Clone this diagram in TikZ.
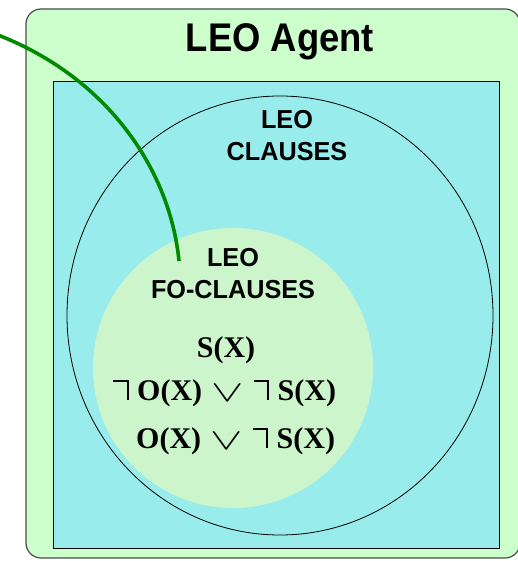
\documentclass[tikz,border=0pt]{standalone}
\usepackage{fontspec}
\setmainfont{Liberation Serif}
\setsansfont{Liberation Sans}
\definecolor{agentbg}{HTML}{CCFFCC}
\definecolor{clausebg}{HTML}{99ECEC}
\definecolor{fobg}{HTML}{CCF5CC}
\definecolor{linkgreen}{HTML}{008A00}
\definecolor{frame}{HTML}{4A4A4A}
% tall hook-shaped negation sign
\newcommand\hookneg{\makebox[0.8em][l]{\rule[0.6em]{0.45em}{0.07em}\rule{0.07em}{0.67em}}}
% wide, light disjunction sign
\newcommand\wideor{\hspace{0.32em}\raisebox{-0.05em}{\scalebox{1.95}[1.2]{$\vee$}}\hspace{0.32em}}
\tikzset{
  title/.style={font=\sffamily\bfseries\fontsize{40}{40}\selectfont, xscale=0.91, inner sep=0pt},
  label/.style={font=\sffamily\bfseries\fontsize{26}{32}\selectfont, xscale=0.97, align=center, inner sep=0pt},
  formula/.style={font=\rmfamily\bfseries\fontsize{30}{30}\selectfont, inner sep=0pt, anchor=base west},
}
\begin{document}
\begin{tikzpicture}[x=1pt,y=-1pt]
\useasboundingbox (0,0) rectangle (517,561);
% agent box
\path[fill=agentbg, draw=frame, line width=1.2pt, rounded corners=15pt] (26,9) rectangle (520,558);
\node[title] (agent) at (280,42) {LEO Agent};
% clause area
\path[fill=clausebg, draw=black, line width=1pt] (53,82) rectangle (499,548);
\path[fill=fobg] (233,368) ellipse [x radius=140, y radius=140];
\draw[line width=0.8pt] (280,315.5) ellipse [x radius=213, y radius=219.5];
\node[label] (clauses) at (287,136) {LEO\\CLAUSES};
\node[label] (fo) at (233,274) {LEO\\FO-CLAUSES};
% first-order clauses
\node[formula, anchor=base] (f1) at (226,357) {S(X)};
\node[formula] (f2) at (113,400) {\hookneg O(X)\wideor\hookneg S(X)};
\node[formula] (f3) at (136,448) {O(X)\wideor\hookneg S(X)};
% incoming link
\coordinate (src) at (-2,35);
\coordinate (dst) at (179,261);
\draw[linkgreen, line width=3.6pt] (src) .. controls (108,78) and (170,170) .. (dst);
\end{tikzpicture}
\end{document}
